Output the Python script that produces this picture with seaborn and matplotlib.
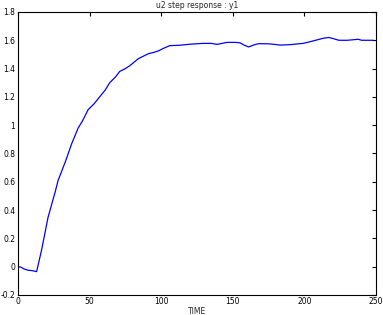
import matplotlib
matplotlib.use("Agg")
import matplotlib.pyplot as plt
from matplotlib.ticker import FuncFormatter
import seaborn as sns
import pandas as pd

time = [0, 2, 4, 7, 10, 13, 16.5, 21, 26, 28, 33, 37.5, 42, 45, 49, 53, 57, 61, 64, 68, 71, 75, 78, 84, 88, 91, 95, 98, 102, 106,
        113, 120, 129, 135, 139, 146, 152, 155, 158, 161, 165, 168, 175, 179, 183, 190, 199, 204, 208.5, 213, 217, 220, 224,
        230, 237.5, 240, 245, 248]
y1 = [0, -0.003, -0.015, -0.025, -0.028, -0.035, 0.12, 0.35, 0.53, 0.61, 0.74, 0.87, 0.98, 1.03, 1.11, 1.15, 1.2, 1.25,
      1.3, 1.34, 1.38, 1.4, 1.42, 1.47, 1.49, 1.505, 1.515, 1.525, 1.545, 1.562,
      1.565, 1.572, 1.578, 1.578, 1.571, 1.585, 1.585, 1.582, 1.565, 1.553, 1.568, 1.576, 1.575, 1.571, 1.566, 1.569, 1.578,
      1.59, 1.602, 1.614, 1.62, 1.612, 1.6, 1.6, 1.607, 1.6, 1.6, 1.6]

df = pd.DataFrame({"TIME": time, "y1": y1})

sns.set_style("white")
plt.rcParams["font.family"] = ["DejaVu Sans"]

fig = plt.figure(figsize=(3.83, 3.15), dpi=100)
ax = fig.add_axes([0.047, 0.0635, 0.935, 0.8985])
sns.lineplot(data=df, x="TIME", y="y1", ax=ax, color="#0000ff", linewidth=0.9)

ax.set_xlim(0, 250)
ax.set_ylim(-0.2, 1.8)
ax.set_xticks([0, 50, 100, 150, 200, 250])
ax.set_yticks([-0.2, 0, 0.2, 0.4, 0.6, 0.8, 1.0, 1.2, 1.4, 1.6, 1.8])
ax.yaxis.set_major_formatter(FuncFormatter(lambda v, p: "%g" % round(v, 2)))
ax.tick_params(direction="in", top=True, right=True, length=3, width=0.8, labelsize=5.5, pad=2, colors="black")
ax.tick_params(axis="x", pad=1.5)
for s in ax.spines.values():
    s.set_color("black")
    s.set_linewidth(0.8)
ax.set_xlabel("TIME", fontsize=5.5, labelpad=0.5)
ax.set_ylabel("")
ax.set_title("u2 step response : y1", fontsize=5.5, pad=3)

fig.savefig("out.png", dpi=100)
